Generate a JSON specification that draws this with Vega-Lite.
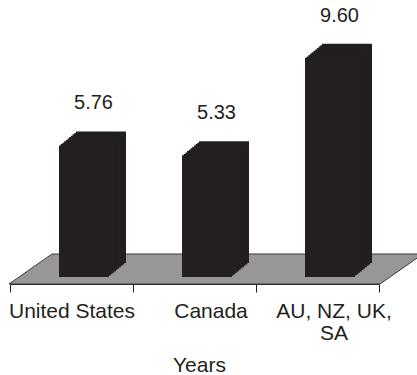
{
  "$schema": "https://vega.github.io/schema/vega-lite/v6.json",
  "width": 369,
  "height": 274,
  "autosize": {"type": "none"},
  "padding": {"left": 10, "top": 3, "right": 38, "bottom": 98},
  "background": "white",
  "config": {"view": {"stroke": null}, "font": "Liberation Sans"},
  "data": {
    "values": [
      {"region": "United States", "value": 5.76},
      {"region": "Canada", "value": 5.33},
      {"region": "AU, NZ, UK, SA", "value": 9.60}
    ]
  },
  "encoding": {
    "x": {
      "field": "region",
      "type": "nominal",
      "sort": ["United States", "Canada", "AU, NZ, UK, SA"],
      "scale": {"paddingInner": 0, "paddingOuter": 0},
      "axis": {
        "title": "Years",
        "titleFont": "Liberation Sans",
        "titleFontSize": 21,
        "titleFontWeight": "normal",
        "titleColor": "#231f20",
        "titleX": 189,
        "titleY": 87,
        "titleAlign": "center",
        "titleBaseline": "alphabetic",
        "labelFont": "Liberation Sans",
        "labelFontSize": 21,
        "labelColor": "#231f20",
        "labelAngle": 0,
        "labelPadding": 8,
        "labelLineHeight": 22,
        "labelExpr": "datum.value == 'AU, NZ, UK, SA' ? ['AU, NZ, UK,', 'SA'] : datum.label",
        "labelOffset": {
          "condition": {"test": "datum.value == 'United States'", "value": 0},
          "value": 16
        },
        "tickBand": "extent",
        "tickSize": 8,
        "tickColor": "#231f20",
        "domainColor": "#231f20",
        "offset": 7,
        "grid": false
      }
    },
    "y": {
      "field": "value",
      "type": "quantitative",
      "scale": {"domain": [0, 12], "nice": false},
      "axis": null
    }
  },
  "layer": [
    {
      "transform": [{"filter": "datum.region == 'Canada'"}],
      "mark": {
        "type": "point",
        "shape": "M -1 0.0725 L -0.7923 -0.0725 L 1 -0.0725 L 0.7923 0.0725 Z",
        "size": 171396,
        "filled": true,
        "fill": "#979797",
        "stroke": "#3a3a3a",
        "strokeWidth": 1,
        "opacity": 1,
        "xOffset": 21.5,
        "yOffset": -8
      },
      "encoding": {"y": {"datum": 0, "type": "quantitative"}}
    },
    {"mark": {"type": "bar", "width": 50, "color": "#231f20", "xOffset": 29.5, "yOffset": -14, "y2Offset": -14}},
    {"mark": {"type": "bar", "width": 50, "color": "#231f20", "xOffset": 27.8, "yOffset": -12.6, "y2Offset": -12.6}},
    {"mark": {"type": "bar", "width": 50, "color": "#231f20", "xOffset": 26.1, "yOffset": -11.2, "y2Offset": -11.2}},
    {"mark": {"type": "bar", "width": 50, "color": "#231f20", "xOffset": 24.4, "yOffset": -9.8, "y2Offset": -9.8}},
    {"mark": {"type": "bar", "width": 50, "color": "#231f20", "xOffset": 22.7, "yOffset": -8.4, "y2Offset": -8.4}},
    {"mark": {"type": "bar", "width": 50, "color": "#231f20", "xOffset": 21, "yOffset": -7, "y2Offset": -7}},
    {"mark": {"type": "bar", "width": 50, "color": "#231f20", "xOffset": 19.3, "yOffset": -5.6, "y2Offset": -5.6}},
    {"mark": {"type": "bar", "width": 50, "color": "#231f20", "xOffset": 17.6, "yOffset": -4.2, "y2Offset": -4.2}},
    {"mark": {"type": "bar", "width": 50, "color": "#231f20", "xOffset": 15.9, "yOffset": -2.8, "y2Offset": -2.8}},
    {"mark": {"type": "bar", "width": 50, "color": "#231f20", "xOffset": 14.2, "yOffset": -1.4, "y2Offset": -1.4}},
    {"mark": {"type": "bar", "width": 50, "color": "#231f20", "xOffset": 12.5, "yOffset": 0, "y2Offset": 0}},
    {
      "mark": {
        "type": "text",
        "font": "Liberation Sans",
        "fontSize": 20,
        "color": "#231f20",
        "align": "center",
        "baseline": "alphabetic",
        "dx": 22,
        "dy": -36
      },
      "encoding": {"text": {"field": "value", "type": "quantitative", "format": ".2f"}}
    }
  ]
}
